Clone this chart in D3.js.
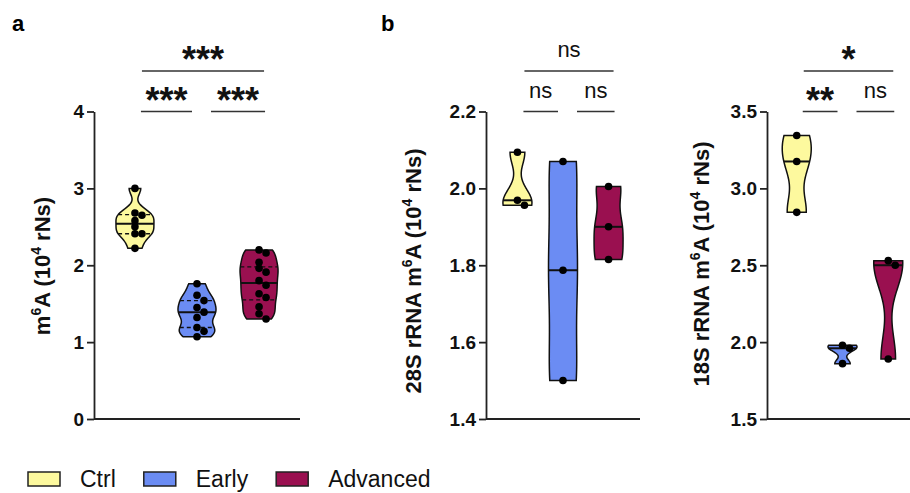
<!DOCTYPE html>
<meta charset="utf-8">
<head>
<style>
body { margin: 0; background: #fff; }
svg { font-family: Arial, "Liberation Sans", sans-serif; }
.axis path, .axis line { stroke: #222; stroke-width: 1.8; }
.axis text { font-size: 19px; font-weight: bold; fill: #111; }
.violin { stroke: #111; stroke-width: 1.5; }
.median { stroke: #111; stroke-width: 2; }
.quart { stroke: #111; stroke-width: 1.3; stroke-dasharray: 4,3; }
.sig line { stroke: #333; stroke-width: 1.6; }
.title { font-size: 22px; font-weight: bold; fill: #111; }
</style>
</head>
<body>
<svg width="910" height="493"></svg>
<script src="https://d3js.org/d3.v7.min.js"></script>
<script>

var groups = ["Ctrl", "Early", "Advanced"];
var colors = ["#fdf99e", "#6b8cf3", "#9a1050"];

// panel a: total m6A
var totalCtrl = [3.0, 2.68, 2.65, 2.58, 2.50, 2.41, 2.41, 2.22];
var totalEarly = [1.76, 1.61, 1.54, 1.45, 1.39, 1.32, 1.19, 1.14, 1.07];
var totalAdvanced = [2.20, 2.16, 2.04, 1.96, 1.91, 1.80, 1.74, 1.63, 1.58, 1.46, 1.37, 1.30];
// panel b: 28S and 18S rRNA
var s28Ctrl = [2.094, 1.969, 1.956];
var s28Early = [2.07, 1.787, 1.50];
var s28Advanced = [2.005, 1.90, 1.815];
var s18Ctrl = [3.344, 3.175, 2.844];
var s18Early = [1.98, 1.96, 1.86];
var s18Advanced = [2.53, 2.50, 1.89];

var totalTicks = [0, 1, 2, 3, 4];
var s28Ticks = [1.4, 1.6, 1.8, 2.0, 2.2];
var s18Ticks = [1.5, 2.0, 2.5, 3.0, 3.5];

// Ctrl-Early, Early-Advanced, Ctrl-Advanced
var totalSig = ["***", "***", "***"];
var s28Sig = ["ns", "ns", "ns"];
var s18Sig = ["**", "ns", "*"];

var svg = d3.select("svg");

var panels = [
  {vals: [totalCtrl, totalEarly, totalAdvanced], ticks: totalTicks, fmt: d3.format("d"), sig: totalSig,
   x0: 94, x1: 300, pad: 0.66, half: 19, title: ["m", "6", "A (10", "4", " rNs)"], tx: 50, ty: 266},
  {vals: [s28Ctrl, s28Early, s28Advanced], ticks: s28Ticks, fmt: d3.format(".1f"), sig: s28Sig,
   x0: 486, x1: 640, pad: 0.69, half: 14.5, title: ["28S rRNA m", "6", "A (10", "4", " rNs)"], tx: 421, ty: 271},
  {vals: [s18Ctrl, s18Early, s18Advanced], ticks: s18Ticks, fmt: d3.format(".1f"), sig: s18Sig,
   x0: 767, x1: 918, pad: 0.65, half: 14.5, title: ["18S rRNA m", "6", "A (10", "4", " rNs)"], tx: 709, ty: 264}
];

var yTop = 111.5, yBot = 419;

function gauss(u) { return Math.exp(-u * u / 2) / Math.sqrt(2 * Math.PI); }

function swarm(vals, y, minD, step) {
  var placed = [];
  vals.slice().sort(d3.descending).forEach(function(v) {
    var py = y(v);
    for (var k = 0; k < 20; k++) {
      var off = (k % 2 ? 1 : -1) * Math.ceil(k / 2) * step;
      var ok = placed.every(function(p) { return Math.hypot(p[0] - off, p[1] - py) >= minD; });
      if (ok) { placed.push([off, py]); break; }
    }
  });
  return placed;
}

panels.forEach(function(p) {
  var ext = d3.extent(p.ticks);
  var y = d3.scaleLinear().domain(ext).range([yBot, yTop]);
  var x = d3.scalePoint().domain(groups).range([p.x0, p.x1]).padding(p.pad);

  var g = svg.append("g");

  // x axis line
  g.append("line")
    .attr("x1", p.x0).attr("x2", Math.min(p.x1, 910))
    .attr("y1", yBot).attr("y2", yBot)
    .attr("stroke", "#222").attr("stroke-width", 1.8);

  g.append("g").attr("class", "axis")
    .attr("transform", "translate(" + p.x0 + ",0)")
    .call(d3.axisLeft(y).tickValues(p.ticks).tickFormat(p.fmt).tickSize(7).tickSizeOuter(0).tickPadding(3));

  p.vals.forEach(function(vals, i) {
    var cx = x(groups[i]);
    var n = vals.length;
    var bw = 0.55 * 1.06 * d3.deviation(vals) * Math.pow(n, -0.2);
    var mn = d3.min(vals), mx = d3.max(vals);
    var pts = d3.range(81).map(function(k) {
      var v = mn + (mx - mn) * k / 80;
      return [v, d3.mean(vals, function(d) { return gauss((v - d) / bw); })];
    });
    var dmax = d3.max(pts, function(d) { return d[1]; });
    var w = d3.scaleLinear().domain([0, dmax]).range([0, p.half]);

    var area = d3.area().curve(d3.curveCatmullRom)
      .y(function(d) { return y(d[0]); })
      .x0(function(d) { return cx - w(d[1]); })
      .x1(function(d) { return cx + w(d[1]); });

    g.append("path").datum(pts)
      .attr("class", "violin")
      .attr("fill", colors[i])
      .attr("d", area);

    function widthAt(v) {
      return w(d3.mean(vals, function(d) { return gauss((v - d) / bw); }));
    }
    var sorted = vals.slice().sort(d3.ascending);
    var lines = [[d3.median(vals), "median"]];
    if (n > 3) {
      lines.push([d3.quantile(sorted, 0.25), "quart"], [d3.quantile(sorted, 0.75), "quart"]);
    }
    lines.forEach(function(l) {
      var hw = widthAt(l[0]);
      g.append("line").attr("class", l[1])
        .attr("x1", cx - hw).attr("x2", cx + hw)
        .attr("y1", y(l[0])).attr("y2", y(l[0]));
    });

    g.selectAll(null).data(swarm(vals, y, 5.5, 7)).enter().append("circle")
      .attr("cx", function(d) { return cx + d[0]; })
      .attr("cy", function(d) { return d[1]; })
      .attr("r", 3.8)
      .attr("fill", "#000");
  });

  // significance brackets
  var c = groups.map(function(k) { return x(k); });
  var bars = [
    [c[0] + 6, c[1] - 5, yTop, p.sig[0]],
    [c[1] + 14, c[2] + 6, yTop, p.sig[1]],
    [c[0] + 7, c[2] + 5, 71, p.sig[2]]
  ];
  var sg = g.append("g").attr("class", "sig");
  bars.forEach(function(b) {
    sg.append("line").attr("x1", b[0]).attr("x2", b[1]).attr("y1", b[2]).attr("y2", b[2]);
    var star = b[3] !== "ns";
    sg.append("text")
      .attr("x", (b[0] + b[1]) / 2)
      .attr("y", star ? b[2] + 1 : b[2] - 14)
      .attr("text-anchor", "middle")
      .style("font-size", star ? "36px" : "22px")
      .style("font-weight", star ? "bold" : "normal")
      .attr("fill", "#111")
      .text(b[3]);
  });

  // y title
  var t = g.append("text").attr("class", "title")
    .attr("text-anchor", "middle")
    .attr("transform", "translate(" + p.tx + "," + p.ty + ") rotate(-90)");
  p.title.forEach(function(s, j) {
    var sup = j % 2 === 1;
    t.append("tspan")
      .attr("dy", sup ? -9 : (j > 0 ? 9 : 0))
      .style("font-size", sup ? "14px" : null)
      .text(s);
  });
});

// panel letters
svg.append("text").attr("x", 12).attr("y", 31).style("font-size", "22px").style("font-weight", "bold").text("a");
svg.append("text").attr("x", 381).attr("y", 31).style("font-size", "22px").style("font-weight", "bold").text("b");

// legend
var lx = 28;
groups.forEach(function(k, i) {
  svg.append("rect").attr("x", lx).attr("y", 472).attr("width", 32).attr("height", 14)
    .attr("fill", colors[i]).attr("stroke", "#222").attr("stroke-width", 1.5);
  var tx = svg.append("text").attr("x", lx + 52).attr("y", 487)
    .style("font-size", "23px").attr("fill", "#111").text(k);
  lx = lx + 52 + tx.node().getComputedTextLength() + 28;
});

</script>
</body>
</html>
